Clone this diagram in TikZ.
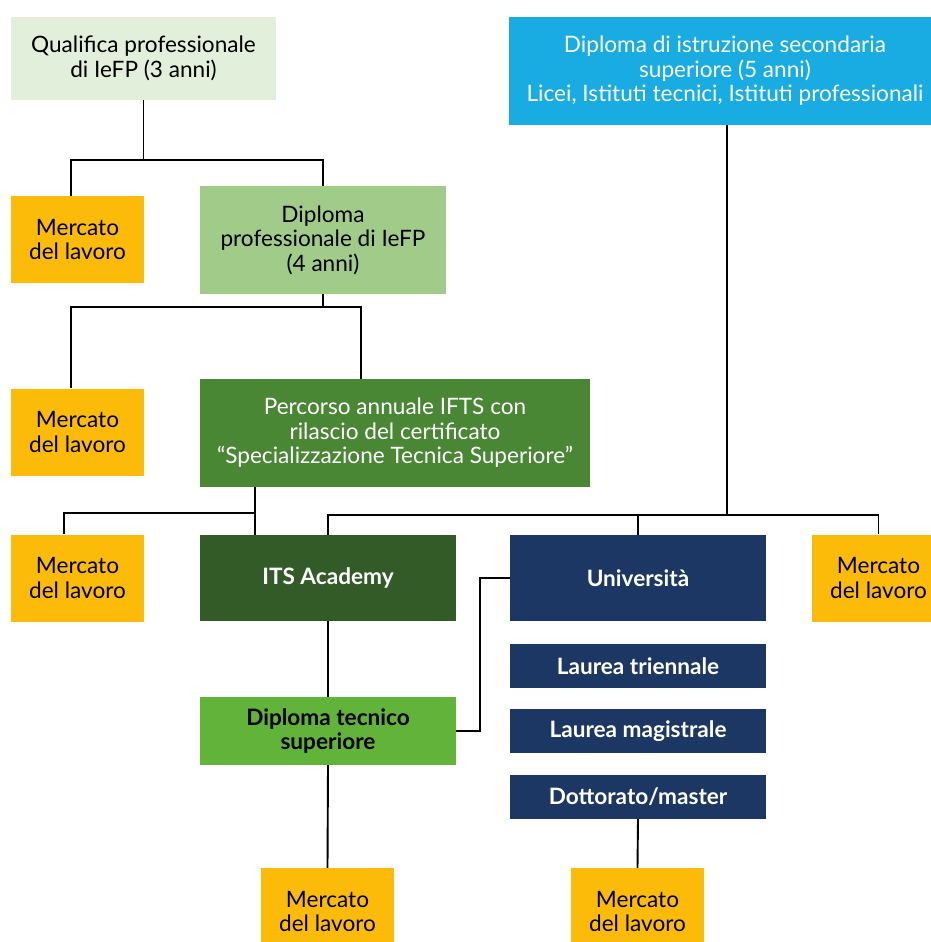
\documentclass[tikz,border=0pt]{standalone}
\usepackage{fontspec}
\setmainfont{Lato}
\definecolor{qualgreen}{HTML}{E2EFDA}
\definecolor{skyblue}{HTML}{18ACE2}
\definecolor{mercyellow}{HTML}{FDBB09}
\definecolor{iefpgreen}{HTML}{A1CB88}
\definecolor{iftsgreen}{HTML}{4A8734}
\definecolor{itsgreen}{HTML}{325B28}
\definecolor{dtsgreen}{HTML}{62B33A}
\definecolor{uninavy}{HTML}{1D3764}
\begin{document}
\begin{tikzpicture}[x=1pt,y=-1pt,
    blk/.style={rectangle,inner sep=0pt,align=center,font=\fontsize{22.6}{24.5}\selectfont},
    merc/.style={blk,fill=mercyellow,minimum width=133,minimum height=87},
    uni/.style={blk,fill=uninavy,text=white,font=\fontsize{22.6}{24.5}\selectfont\bfseries,minimum width=256},
    link/.style={draw,line width=1.9pt}]

  \useasboundingbox (0,0) rectangle (931,942);

  % boxes
  \node[blk,fill=qualgreen,minimum width=265,minimum height=83] (qual) at (143.5,58.5)
    {Qualifica professionale\\di IeFP (3 anni)};
  \node[blk,fill=skyblue,text=white,minimum width=432,minimum height=108] (diss) at (725,71)
    {Diploma di istruzione secondaria\\superiore (5 anni)\\Licei, Istituti tecnici, Istituti professionali};
  \node[merc] (merc1) at (77.5,239.5) {Mercato\\del lavoro};
  \node[blk,fill=iefpgreen,minimum width=246,minimum height=108] (iefp) at (323,240)
    {Diploma\\professionale di IeFP\\(4 anni)};
  \node[merc] (merc2) at (77.5,432) {Mercato\\del lavoro};
  \node[blk,fill=iftsgreen,text=white,minimum width=390,minimum height=108] (ifts) at (395,433)
    {Percorso annuale IFTS con\\rilascio del certificato\\“Specializzazione Tecnica Superiore”};
  \node[merc] (merc3) at (77.5,578) {Mercato\\del lavoro};
  \node[blk,fill=itsgreen,text=white,font=\fontsize{22.6}{24.5}\selectfont\bfseries,
    minimum width=256,minimum height=86] (its) at (328,578) {ITS Academy};
  \node[uni,minimum height=86] (univ) at (638,578) {Università};
  \node[merc] (merc4) at (878.5,578) {Mercato\\del lavoro};
  \node[uni,minimum height=44] (lt) at (638,666) {Laurea triennale};
  \node[uni,minimum height=44] (lm) at (638,731) {Laurea magistrale};
  \node[uni,minimum height=44] (dott) at (638,797) {Dottorato/master};
  \node[blk,fill=dtsgreen,font=\fontsize{22.6}{24.5}\selectfont\bfseries,
    minimum width=256,minimum height=68] (dtec) at (328,731) {Diploma tecnico\\superiore};
  \node[merc] (merc5) at (327.5,911.5) {Mercato\\del lavoro};
  \node[merc] (merc6) at (637.5,911.5) {Mercato\\del lavoro};

  % junctions
  \coordinate (q1) at (71,160);
  \coordinate (p1) at (71,307);
  \coordinate (p2) at (361,307);
  \coordinate (s1) at (255,513);
  \coordinate (s2) at (64,513);
  \coordinate (d1) at (727,515);

  % connectors
  \draw[link] (qual.south) -- (qual.south |- q1);
  \draw[link] (q1 |- merc1.north) -- (q1) -- (q1 -| iefp.north) -- (iefp.north);
  \draw[link] (iefp.south) -- (iefp.south |- p1);
  \draw[link] (p1 |- merc2.north) -- (p1) -- (p2) -- (p2 |- ifts.north);
  \draw[link] (s1 |- ifts.south) -- (s1 |- its.north);
  \draw[link] (s1) -- (s2) -- (s2 |- merc3.north);
  \draw[link] (d1 |- diss.south) -- (d1);
  \draw[link] (its.north) |- (merc4.north |- d1) -- (merc4.north);
  \draw[link] (univ.north) -- (univ.north |- d1);
  \draw[link] (its.south) -- (dtec.north);
  \draw[link] (dtec.south) -- (merc5.north);
  \draw[link] (dtec.east) -- ++(24,0) |- (univ.west);
  \draw[link] (dott.south) -- (merc6.north);

\end{tikzpicture}
\end{document}
